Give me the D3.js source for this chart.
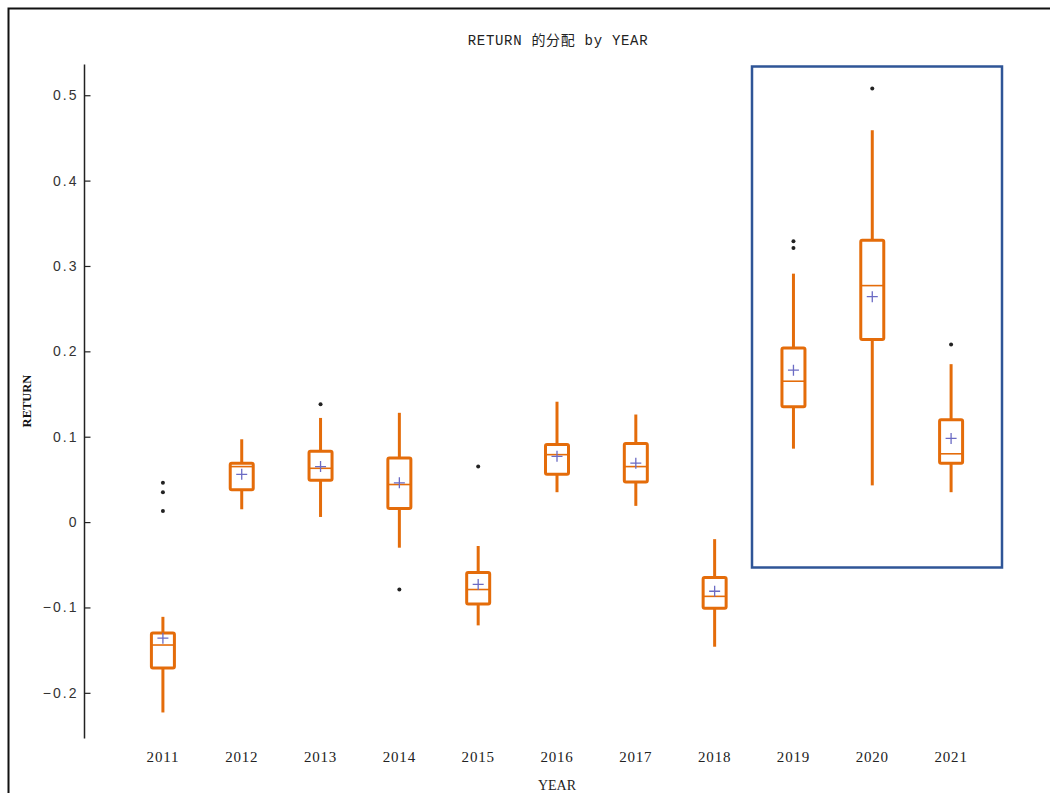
<!DOCTYPE html>
<html><head><meta charset="utf-8">
<script src="https://cdn.jsdelivr.net/npm/d3@7/dist/d3.min.js"></script>
<style>
html,body{margin:0;padding:0;background:#fff;}
svg{display:block;}
</style></head>
<body>
<svg id="chart" width="1050" height="793"></svg>
<script>
const years = ["2011","2012","2013","2014","2015","2016","2017","2018","2019","2020","2021"];
const whiskerLow  = [-0.223, 0.015, 0.006, -0.030, -0.121, 0.035, 0.019, -0.146, 0.086, 0.043, 0.035];
const q1          = [-0.171, 0.038, 0.049,  0.016, -0.096, 0.056, 0.047, -0.101, 0.135, 0.214, 0.069];
const medians     = [-0.144, 0.065, 0.063,  0.044, -0.079, 0.079, 0.065, -0.087, 0.165, 0.277, 0.080];
const q3          = [-0.130, 0.069, 0.083,  0.075, -0.059, 0.091, 0.092, -0.065, 0.204, 0.330, 0.120];
const whiskerHigh = [-0.111, 0.097, 0.122,  0.128, -0.028, 0.141, 0.126, -0.020, 0.291, 0.459, 0.185];
const means       = [-0.136, 0.056, 0.065,  0.046, -0.073, 0.077, 0.069, -0.081, 0.178, 0.264, 0.098];
const outliers    = [[0.046, 0.035, 0.013], [], [0.138], [-0.079], [0.065], [], [], [], [0.329, 0.321], [0.508], [0.208]];
const yTicks = [-0.2, -0.1, 0, 0.1, 0.2, 0.3, 0.4, 0.5];
const titleText = "RETURN 的分配 by YEAR";
const xLabel = "YEAR";
const yLabel = "RETURN";

const svg = d3.select("#chart");
const orange = "#e46c0a";
const plusColor = "#6b6bc4";

// outer frame
svg.append("path")
  .attr("d", "M1050,8.5 L8.5,8.5 L8.5,793")
  .attr("fill", "none").attr("stroke", "#111").attr("stroke-width", 2);

const x = d3.scaleBand().domain(years).range([123.5, 990.5]).padding(0);
const y = d3.scaleLinear().domain([-0.2535, 0.536]).range([738.5, 64.5]);
const cx = d => x(d) + x.bandwidth() / 2;

// title
svg.append("text").attr("x", 558).attr("y", 45).attr("text-anchor", "middle")
  .attr("font-family", "'Liberation Mono','Noto Sans CJK SC',monospace").attr("font-size", 14)
  .attr("letter-spacing", "0.7px")
  .attr("fill", "#222").text(titleText);

// y axis
const axisX = 84.5;
const yAxis = d3.axisRight(y).tickValues(yTicks).tickSize(6)
  .tickFormat(d => d === 0 ? "0" : d3.format(".1f")(d).replace("-", "−"));
const gy = svg.append("g").attr("transform", `translate(${axisX},0)`).call(yAxis);
gy.select(".domain").attr("d", `M0,${y.range()[1]}V${y.range()[0]}`).attr("stroke", "#222").attr("stroke-width", 1.5);
gy.selectAll(".tick line").attr("stroke", "#222").attr("stroke-width", 1.2);
gy.selectAll(".tick text").attr("x", -6).attr("text-anchor", "end")
  .attr("font-family", "'Liberation Sans',Arial,sans-serif").attr("font-size", 14)
  .attr("letter-spacing", "2px").attr("fill", "#333");

// y label
svg.append("text").attr("transform", "translate(31,401) rotate(-90)")
  .attr("text-anchor", "middle").attr("font-family", "'Liberation Serif',serif")
  .attr("font-size", 12.5).attr("font-weight", "bold").attr("fill", "#111").text(yLabel);

// x axis labels
const xAxis = d3.axisBottom(x).tickSize(0).tickPadding(0);
const gx = svg.append("g").attr("transform", "translate(0,748)").call(xAxis);
gx.select(".domain").remove();
gx.selectAll(".tick text").attr("dy", "0.9em")
  .attr("font-family", "'Liberation Serif',serif").attr("font-size", 15)
  .attr("letter-spacing", "0.8px")
  .attr("fill", "#222");

svg.append("text").attr("x", 557).attr("y", 790).attr("text-anchor", "middle")
  .attr("font-family", "'Liberation Serif',serif").attr("font-size", 14)
  .attr("fill", "#222").text(xLabel);

// boxes
const bw = 23;
const data = years.map((yr, i) => ({yr, lo: whiskerLow[i], q1: q1[i], med: medians[i], q3: q3[i], hi: whiskerHigh[i], mean: means[i], out: outliers[i]}));
const g = svg.append("g");
const box = g.selectAll("g.box").data(data).join("g").attr("class", "box");

box.append("line").attr("x1", d => cx(d.yr)).attr("x2", d => cx(d.yr))
  .attr("y1", d => y(d.hi)).attr("y2", d => y(d.q3))
  .attr("stroke", orange).attr("stroke-width", 3);
box.append("line").attr("x1", d => cx(d.yr)).attr("x2", d => cx(d.yr))
  .attr("y1", d => y(d.q1)).attr("y2", d => y(d.lo))
  .attr("stroke", orange).attr("stroke-width", 3);
box.append("rect").attr("x", d => cx(d.yr) - bw / 2).attr("width", bw)
  .attr("y", d => y(d.q3)).attr("height", d => y(d.q1) - y(d.q3))
  .attr("rx", 1.5)
  .attr("fill", "#fff").attr("stroke", orange).attr("stroke-width", 3);
box.append("line").attr("x1", d => cx(d.yr) - bw / 2).attr("x2", d => cx(d.yr) + bw / 2)
  .attr("y1", d => y(d.med)).attr("y2", d => y(d.med))
  .attr("stroke", orange).attr("stroke-width", 1.6);
// mean plus
box.append("path")
  .attr("d", d => { const px = cx(d.yr), py = y(d.mean); return `M${px-5.5},${py}H${px+5.5}M${px},${py-5.5}V${py+5.5}`; })
  .attr("stroke", plusColor).attr("stroke-width", 1.3).attr("fill", "none");
// outliers
box.selectAll("circle").data(d => d.out.map(v => ({yr: d.yr, v}))).join("circle")
  .attr("cx", d => cx(d.yr)).attr("cy", d => y(d.v)).attr("r", 2)
  .attr("fill", "#222");

// highlight rectangle
svg.append("rect").attr("x", 752).attr("y", 66.5)
  .attr("width", 250).attr("height", 501)
  .attr("fill", "none").attr("stroke", "#2f5597").attr("stroke-width", 2.5);
</script>
</body></html>
